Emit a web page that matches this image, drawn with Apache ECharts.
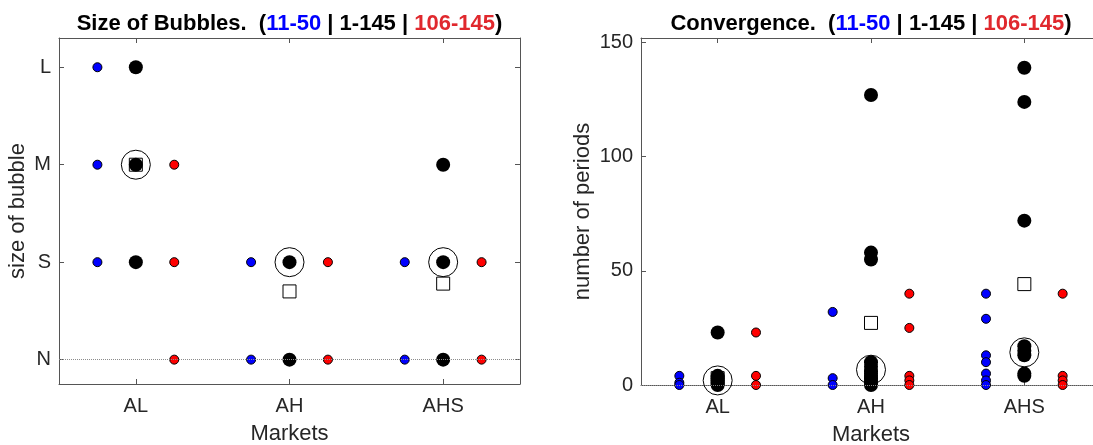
<!DOCTYPE html>
<html>
<head>
<meta charset="utf-8">
<script src="https://cdn.jsdelivr.net/npm/echarts@6/dist/echarts.min.js"></script>
<style>
  html, body { margin: 0; padding: 0; background: #fff; }
  #chart { width: 1093px; height: 445px; }
</style>
</head>
<body>
<div id="chart"></div>
<script>
// markets on the x axis of both panels
const categories = ['AL', 'AH', 'AHS'];
// bubble size levels, 0..3
const sizeLabels = ['N', 'S', 'M', 'L'];
const periodTicks = [0, 50, 100, 150];

// left panel: size of bubble per market (0 = N ... 3 = L)
const sizeBlue = [[3, 2, 1], [1, 0], [1, 0]];      // periods 11-50
const sizeAll = [[3, 2, 1], [1, 0], [2, 1, 0]];    // periods 1-145
const sizeRed = [[2, 1, 0], [1, 0], [1, 0]];       // periods 106-145
const sizeMedian = [2, 1, 1];
const sizeMean = [2, 0.7, 0.78];

// right panel: number of periods to convergence
const convBlue = [[4, 1, 0], [32, 3, 0], [40, 29, 13, 10, 5, 2, 0]];
const convAll = [
  [23, 4, 3, 2, 1, 0],
  [127, 58, 55, 10, 8, 6, 5, 4, 3, 2, 1, 0],
  [139, 124, 72, 17, 15, 13, 5, 4]
];
const convRed = [[23, 4, 0], [40, 25, 4, 2, 0], [40, 4, 2, 0]];
const convMedian = [2, 6.7, 14.3];
const convMean = [3, 27.2, 44.2];

const FONT = "'Liberation Sans', Arial, Helvetica, sans-serif";
const AXIS = '#262626';
const LINE = '#555';
const SHIFT = 0.25;

const chart = echarts.init(document.getElementById('chart'));

const points = (groups, off) =>
  groups.flatMap((vals, i) => vals.map(v => [i + 1 + off, v]));
const perMarket = (vals) => vals.map((v, i) => [i + 1, v]);

const titleText = (head) =>
  '{b|' + head + '  (}{blue|11-50}{b| | 1-145 | }{red|106-145}{b|)}';
const titleRich = {
  b: { color: '#000', fontSize: 22, fontWeight: 'bold', fontFamily: FONT },
  blue: { color: '#0000ff', fontSize: 22, fontWeight: 'bold', fontFamily: FONT },
  red: { color: '#e0282d', fontSize: 22, fontWeight: 'bold', fontFamily: FONT }
};

const xAxes = (g) => [
  {
    gridIndex: g, type: 'value', min: 0.5, max: 3.5, position: 'bottom',
    name: 'Markets', nameLocation: 'middle', nameGap: 39,
    nameTextStyle: { fontSize: 22, color: AXIS, fontFamily: FONT },
    axisLine: { onZero: false, lineStyle: { color: LINE, width: 1 } },
    axisTick: { inside: true, length: 5, customValues: [1, 2, 3], lineStyle: { color: LINE } },
    axisLabel: {
      customValues: [1, 2, 3], margin: 12, fontSize: 20, color: AXIS, fontFamily: FONT,
      formatter: v => categories[Math.round(v) - 1]
    },
    splitLine: { show: false }
  },
  {
    gridIndex: g, type: 'value', min: 0.5, max: 3.5, position: 'top',
    axisLine: { onZero: false, lineStyle: { color: LINE, width: 1 } },
    axisTick: { inside: true, length: 5, customValues: [1, 2, 3], lineStyle: { color: LINE } },
    axisLabel: { show: false },
    splitLine: { show: false }
  }
];

const scatter = (name, data, xi, yi, size, color, border, z) => ({
  name, type: 'scatter', xAxisIndex: xi, yAxisIndex: yi, data,
  symbol: 'circle', symbolSize: size, z,
  itemStyle: { color, borderColor: '#000', borderWidth: border, opacity: 1 },
  emphasis: { disabled: true }, silent: true
});

const zeroLine = {
  silent: true, symbol: 'none', label: { show: false },
  lineStyle: { type: 'dotted', color: '#8c8c8c', width: 1 },
  data: [{ yAxis: 0 }]
};

const panelSeries = (blue, all, red, median, mean, xi, yi) => [
  Object.assign(scatter('1-145', points(all, 0), xi, yi, 14, '#000', 0, 3), { markLine: zeroLine }),
  scatter('11-50', points(blue, -SHIFT), xi, yi, 9, '#0000ff', 1, 4),
  scatter('106-145', points(red, SHIFT), xi, yi, 9, '#ff0000', 1, 4),
  scatter('median', perMarket(median), xi, yi, 29, 'rgba(0,0,0,0)', 1, 5),
  Object.assign(scatter('mean', perMarket(mean), xi, yi, 13, 'rgba(0,0,0,0)', 1, 6), { symbol: 'rect' })
];

chart.setOption({
  animation: false,
  backgroundColor: '#fff',
  textStyle: { fontFamily: FONT },
  title: [
    { text: titleText('Size of Bubbles.'), left: 284.5, top: 8, textAlign: 'center', textStyle: { rich: titleRich } },
    { text: titleText('Convergence.'), left: 866, top: 8, textAlign: 'center', textStyle: { rich: titleRich } }
  ],
  grid: [
    { left: 59, top: 38, width: 461, height: 346, containLabel: false, outerBoundsMode: 'none' },
    { left: 641, top: 38, width: 460, height: 347, containLabel: false, outerBoundsMode: 'none' }
  ],
  xAxis: [...xAxes(0), ...xAxes(1)],
  yAxis: [
    {
      gridIndex: 0, type: 'value', min: -0.25, max: 3.3, position: 'left',
      name: 'size of bubble', nameLocation: 'middle', nameGap: 30,
      nameTextStyle: { fontSize: 22, color: AXIS, fontFamily: FONT },
      axisLine: { show: true, onZero: false, lineStyle: { color: LINE, width: 1 } },
      axisTick: { show: true, inside: true, length: 5, customValues: [0, 1, 2, 3], lineStyle: { color: LINE } },
      axisLabel: {
        customValues: [0, 1, 2, 3], margin: 8, fontSize: 20, color: AXIS, fontFamily: FONT,
        formatter: v => sizeLabels[Math.round(v)]
      },
      splitLine: { show: false }
    },
    {
      gridIndex: 0, type: 'value', min: -0.25, max: 3.3, position: 'right',
      axisLine: { show: true, onZero: false, lineStyle: { color: LINE, width: 1 } },
      axisTick: { show: true, inside: true, length: 5, customValues: [0, 1, 2, 3], lineStyle: { color: LINE } },
      axisLabel: { show: false },
      splitLine: { show: false }
    },
    {
      gridIndex: 1, type: 'value', min: 0, max: 152, position: 'left',
      name: 'number of periods', nameLocation: 'middle', nameGap: 47,
      nameTextStyle: { fontSize: 22, color: AXIS, fontFamily: FONT },
      axisLine: { show: true, onZero: false, lineStyle: { color: LINE, width: 1 } },
      axisTick: { show: true, inside: true, length: 5, customValues: periodTicks, lineStyle: { color: LINE } },
      axisLabel: { customValues: periodTicks, margin: 8, fontSize: 20, color: AXIS, fontFamily: FONT },
      splitLine: { show: false }
    }
  ],
  series: [
    ...panelSeries(sizeBlue, sizeAll, sizeRed, sizeMedian, sizeMean, 0, 0),
    ...panelSeries(convBlue, convAll, convRed, convMedian, convMean, 2, 2)
  ]
});
</script>
</body>
</html>
